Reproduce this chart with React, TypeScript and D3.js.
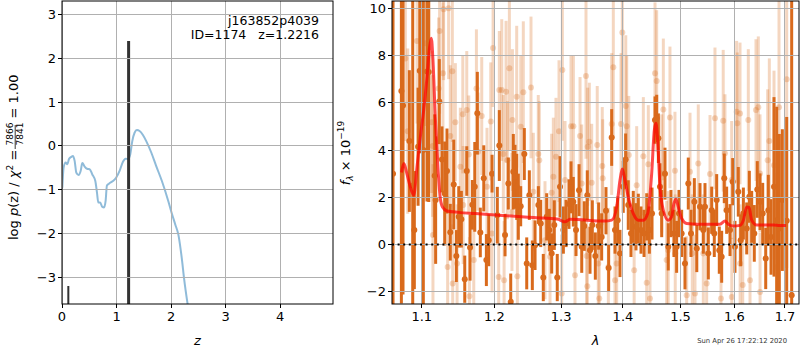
import * as d3 from 'd3'

// left panel: log p(z) curve
const pzCurve: [number, number][] = [
  [0.006, -0.95], [0.03, -0.49], [0.067, -0.38], [0.098, -0.42], [0.128, -0.3], [0.171, -0.25],
  [0.2, -0.23], [0.232, -0.34], [0.263, -0.61], [0.305, -0.66], [0.342, -0.57], [0.373, -0.39],
  [0.415, -0.47], [0.458, -0.52], [0.507, -0.53], [0.556, -0.65], [0.611, -0.8], [0.641, -1.06],
  [0.666, -1.29], [0.7, -1.29], [0.739, -1.39], [0.77, -1.4], [0.8, -1.25], [0.824, -0.9],
  [0.861, -0.86], [0.934, -0.8], [0.995, -0.72], [1.056, -0.57], [1.118, -0.36], [1.166, -0.29],
  [1.209, -0.3], [1.252, -0.19], [1.289, 0.11], [1.331, 0.3], [1.374, 0.36], [1.423, 0.34],
  [1.484, 0.25], [1.545, 0.11], [1.637, -0.15], [1.728, -0.46], [1.832, -0.8], [1.95, -1.26],
  [2.01, -1.52], [2.08, -1.8], [2.134, -2.02], [2.196, -2.55], [2.239, -3.02], [2.306, -3.62],
]
const peakZ = [0.116, 1.2216]
const peakTop = [-3.19, 2.39]
const peakWidth = [2, 3]

// right panel: [lambda, flux, err]
const darkSpec: [number, number, number][] = [
  [1.0628, 3.0, 12], [1.0735, 6.5, 9], [1.0756, 5.88, 8], [1.0838, 4.38, 3.0], [1.0882, 2.5, 9],
  [1.0903, 0.61, 2.5], [1.0952, 4.14, 2.5], [1.0974, 7.36, 3.5], [1.1021, 4.0, 9], [1.107, 7.32, 5.5],
  [1.1093, 7.3, 5.5], [1.1172, 2.91, 2.6], [1.1185, 1.88, 2.7], [1.1234, 6.05, 1.8], [1.127, 3.6, 1.4],
  [1.1307, 2.16, 2.2], [1.1338, 3.11, 1.8], [1.1383, 0.52, 1.2], [1.143, 2.54, 1.9], [1.1466, -0.49, 1.1],
  [1.1499, 1.17, 1.3], [1.1535, 1.07, 1.2], [1.1582, -1.47, 1.0], [1.161, 3.11, 1.05], [1.1656, -0.13, 1.4],
  [1.1688, 1.68, 1.05], [1.1722, 2.44, 1.9], [1.1758, 5.56, 1.75], [1.18, 0.51, 1.05], [1.1849, 2.8, 1.4],
  [1.1886, -0.66, 1.1], [1.192, 0.18, 1.1], [1.1967, 3.0, 0.8], [1.2043, 1.24, 1.2], [1.2072, 4.19, 1.5],
  [1.2155, 0.4, 0.9], [1.2203, 2.58, 1.1], [1.2238, -2.43, 1.2], [1.2276, 3.08, 1.6], [1.2301, 2.87, 1.35],
  [1.2326, 2.44, 1.4], [1.235, 1.6, 1.4], [1.2385, 1.62, 0.85], [1.2439, 3.83, 1.1], [1.2475, -0.8, 1.1],
  [1.2514, 2.09, 1.05], [1.2559, -0.88, 1.05], [1.26, -0.03, 1.05], [1.265, 1.67, 0.8], [1.2686, 0.89, 1.0],
  [1.2725, -1.4, 1.0], [1.2777, 1.17, 1.0], [1.2817, 0.61, 0.9], [1.2854, -0.38, 0.85], [1.2894, 0.82, 1.05],
  [1.294, -1.4, 1.0], [1.2983, 2.44, 1.3], [1.3035, 0.61, 1.0], [1.3077, 0.89, 1.0], [1.3123, 1.71, 1.05],
  [1.3155, 2.42, 1.1], [1.3191, 1.81, 1.05], [1.3234, 0.61, 1.1], [1.3282, 2.3, 1.1], [1.3325, -0.1, 1.1],
  [1.3366, 0.78, 1.05], [1.3414, 2.09, 1.05], [1.3458, -0.24, 1.0], [1.3495, 0.82, 1.05], [1.3544, -0.49, 1.0],
  [1.3598, 0.78, 1.0], [1.3647, 0.32, 1.0], [1.3718, 1.43, 1.0], [1.3762, -1.0, 1.0], [1.3812, 4.53, 1.2],
  [1.3867, 0.61, 1.0], [1.3912, 1.03, 1.0], [1.395, -0.38, 1.0], [1.4005, 2.44, 1.1], [1.4045, 3.6, 1.1],
  [1.4089, 1.67, 1.05], [1.4135, 0.47, 1.0], [1.4174, 1.17, 1.1], [1.422, 0.75, 1.0], [1.426, 1.1, 1.05],
  [1.4306, 0.61, 1.0], [1.4358, 0.47, 1.0], [1.4404, 1.17, 1.0], [1.445, 0.61, 1.0], [1.4496, 1.31, 1.1],
  [1.4548, 5.27, 1.0], [1.4578, 5.34, 1.0], [1.4607, 4.5, 1.05], [1.4635, 2.44, 1.0], [1.4665, 1.31, 1.0],
  [1.4723, 3.0, 1.1], [1.4781, -0.1, 1.0], [1.4829, 1.31, 1.0], [1.4882, 0.47, 1.0], [1.493, -0.1, 1.1],
  [1.4972, 1.31, 1.0], [1.502, 0.47, 1.0], [1.508, -0.8, 1.1], [1.514, 2.58, 1.1], [1.5189, 0.47, 1.0],
  [1.525, 1.81, 1.0], [1.5295, -0.17, 1.0], [1.5354, 1.6, 1.0], [1.5415, 0.61, 1.0], [1.5446, 1.6, 1.0],
  [1.5508, -0.38, 1.1], [1.5571, 1.45, 1.0], [1.5619, 0.47, 1.0], [1.5664, 1.88, 1.1], [1.5713, -0.24, 1.0],
  [1.5758, -0.52, 1.1], [1.5807, 2.8, 1.05], [1.5852, 1.45, 1.0], [1.5916, 0.61, 1.1], [1.5968, 2.66, 1.0],
  [1.6011, -0.1, 1.1], [1.6075, 2.23, 1.05], [1.6121, 0.18, 1.1], [1.6173, 1.31, 1.1], [1.6238, 0.68, 1.1],
  [1.6289, 2.02, 1.1], [1.6335, 1.17, 1.1], [1.6386, 0.47, 1.2], [1.6445, 2.33, 1.2], [1.6499, 1.81, 1.2],
  [1.6552, 1.31, 1.3], [1.6612, -0.59, 1.3], [1.6664, 1.45, 1.5], [1.6718, 0.32, 1.6], [1.6778, 2.44, 3.8],
  [1.6832, 1.03, 4.8], [1.6885, 0.68, 4.0], [1.6946, 1.88, 3.0], [1.7035, 1.0, 4.4], [1.7137, -2.15, 13],
]

const lightSpec: [number, number, number][] = [
  [1.0786, 7.88, 3.5], [1.0817, 4.8, 3.5], [1.0938, 8.62, 3.5], [1.1048, 8.52, 3.5], [1.1132, 5.18, 3],
  [1.1145, 4.17, 3], [1.1149, 0.4, 3], [1.1225, 6.61, 3], [1.1238, 9.04, 3.5], [1.1283, 7.25, 3],
  [1.1292, 9.96, 3], [1.1347, -0.95, 3], [1.136, 10.0, 3], [1.1383, 4.59, 3], [1.1411, 7.34, 3],
  [1.1416, -1.65, 2.5], [1.1452, 5.18, 2.5], [1.1476, -0.8, 2.5], [1.1521, 3.29, 2.5], [1.1555, 5.51, 2.5],
  [1.156, 1.67, 2.5], [1.161, 5.69, 2.5], [1.1638, 3.81, 2.5], [1.1647, -2.19, 2.5], [1.1708, -0.66, 2.5],
  [1.1745, 6.61, 2.5], [1.1768, 3.93, 2.5], [1.182, 5.44, 2.5], [1.1895, 2.44, 2.5], [1.1949, 5.21, 2.5],
  [1.1967, 0.47, 2.5], [1.1982, 8.32, 2.5], [1.2063, -1.38, 2.5], [1.2072, 6.54, 2.5], [1.2107, 6.54, 3],
  [1.213, 3.83, 2.5], [1.2141, -1.51, 2.5], [1.217, 6.47, 3], [1.2189, 3.57, 2.5], [1.2218, 7.46, 3.5],
  [1.2256, 1.38, 2.5], [1.2263, 5.27, 3], [1.2326, 6.26, 3], [1.2336, -1.34, 2.5], [1.2386, 4.99, 3],
  [1.2424, 6.45, 3], [1.2539, 6.65, 3], [1.2574, 2.23, 2.5], [1.2649, 3.83, 2.5], [1.2664, 3.57, 2.5],
  [1.2751, 0.18, 2.5], [1.2828, -0.52, 2.5], [1.2853, 2.19, 2.5], [1.2879, 2.87, 2.5], [1.292, 3.71, 2.5],
  [1.2967, 4.8, 3], [1.3009, -2.08, 2.5], [1.3019, 7.39, 3], [1.3061, 2.73, 2.5], [1.3155, 5.01, 3],
  [1.3192, 5.01, 3], [1.3218, -1.3, 2.5], [1.3298, 4.59, 2.5], [1.3325, 2.58, 2.5], [1.3393, 7.13, 3.5],
  [1.3404, -0.49, 2.5], [1.3414, -1.77, 2.5], [1.342, 4.14, 2.5], [1.3447, 4.35, 2.5], [1.3485, 2.61, 2.5],
  [1.3575, 4.21, 2.5], [1.3592, -0.8, 2.5], [1.3608, -2.29, 2.5], [1.3657, 3.32, 2.5], [1.3664, 2.8, 2.5],
  [1.3757, -0.95, 2.5], [1.3812, 5.1, 3], [1.3839, 7.5, 3], [1.3867, -1.51, 2.5], [1.3895, -0.8, 2.5],
  [1.3967, 5.1, 3], [1.3989, 8.98, 3], [1.4047, 5.86, 3], [1.4063, 5.01, 3], [1.4098, 3.79, 2.5],
  [1.4189, -1.09, 2.5], [1.4232, 2.51, 2.5], [1.4346, 3.74, 2.5], [1.4404, -1.62, 2.5], [1.4432, 3.4, 2.5],
  [1.4461, -2.29, 2.5], [1.4548, 7.25, 3], [1.4577, 6.92, 3], [1.4665, 3.01, 2.5], [1.4694, 5.72, 3],
  [1.4752, -0.66, 2.5], [1.478, -0.24, 2.5], [1.4811, 5.38, 3], [1.49, 3.12, 2.5], [1.4905, -0.38, 2.5],
  [1.5111, -2.15, 2.5], [1.5171, 3.08, 2.5], [1.5213, -0.38, 2.5], [1.5262, -2.08, 2.5], [1.5322, 3.43, 2.5],
  [1.5415, -0.38, 2.5], [1.5477, -1.65, 2.5], [1.5539, 2.98, 2.5], [1.5632, 5.34, 3], [1.5745, -2.29, 2.5],
  [1.5787, 5.24, 3], [1.582, 3.86, 2.5], [1.5948, 2.73, 2.5], [1.595, -2.22, 2.5], [1.6043, 5.62, 3],
  [1.6056, 5.13, 3], [1.6108, 5.55, 3], [1.611, -0.8, 2.5], [1.616, -1.72, 2.5], [1.6269, 5.27, 3],
  [1.6302, -1.51, 2.5], [1.6419, 5.69, 3], [1.6465, 5.81, 3], [1.6499, 3.01, 2.5], [1.65, -2.01, 2.5],
  [1.6651, 3.57, 3], [1.6684, 4.38, 3.5], [1.6778, 3.36, 4], [1.6832, -0.95, 4], [1.6879, 5.81, 6],
  [1.7035, 7.0, 8],
]

const modelSpec: [number, number][] = [
  [1.0737, 3.05], [1.0767, 3.43], [1.0806, 3.0], [1.085, 2.44], [1.0895, 2.09], [1.0938, 3.29],
  [1.0982, 4.56], [1.1026, 5.69], [1.107, 7.1], [1.1105, 8.37], [1.1127, 8.73], [1.1149, 7.81],
  [1.118, 5.41], [1.1215, 3.29], [1.1245, 2.02], [1.1277, 1.59], [1.1338, 1.42], [1.1499, 1.36],
  [1.173, 1.31], [1.2112, 1.23], [1.2574, 1.14], [1.2956, 1.07], [1.3009, 1.0], [1.3061, 0.96],
  [1.3139, 1.07], [1.3701, 0.99], [1.3812, 1.03], [1.3895, 1.59], [1.395, 2.72], [1.3989, 3.2],
  [1.4034, 2.72], [1.4089, 2.02], [1.4175, 1.31], [1.426, 1.03], [1.4346, 1.03], [1.4421, 1.31],
  [1.449, 3.0], [1.4536, 4.84], [1.4565, 5.13], [1.4594, 4.42], [1.4635, 2.44], [1.4694, 1.45],
  [1.478, 1.03], [1.484, 1.17], [1.4882, 1.74], [1.4918, 1.92], [1.4959, 1.59], [1.502, 1.1],
  [1.5111, 0.89], [1.5322, 0.86], [1.5726, 0.86], [1.582, 0.99], [1.5884, 0.86], [1.598, 0.78],
  [1.6108, 0.81], [1.6173, 1.03], [1.6238, 1.59], [1.6283, 1.57], [1.6335, 1.03], [1.6433, 0.82],
  [1.6764, 0.82], [1.6899, 0.8], [1.7021, 0.8],
]

const zTicks = [0, 1, 2, 3, 4]
const pTicks = [-3, -2, -1, 0, 1, 2, 3]
const lamTicks = [1.1, 1.2, 1.3, 1.4, 1.5, 1.6, 1.7]
const fluxTicks = [-2, 0, 2, 4, 6, 8, 10]

const FONT = 'DejaVu Sans, sans-serif'
const GRID = '#b0b0b0'
const ORANGE = '#d96a1c'
const fmt = (v: number) => (v < 0 ? '\u2212' + Math.abs(v) : String(v))

const L = { x0: 62, x1: 333, y0: 1, y1: 304 }
const R = { x0: 392, x1: 799, y0: 1, y1: 304 }

export default function App() {
  const zX = d3.scaleLinear().domain([0, 4.97]).range([L.x0, L.x1])
  const pY = d3.scaleLinear().domain([-3.6, 3.3]).range([L.y1, L.y0])
  const lamX = d3.scaleLog().domain([1.0615, 1.7288]).range([R.x0, R.x1])
  const fY = d3.scaleLinear().domain([-2.52, 10.31]).range([R.y1, R.y0])

  const pzLine = d3.line<[number, number]>().x(d => zX(d[0])).y(d => pY(d[1])).curve(d3.curveMonotoneX)
  const modelLine = d3.line<[number, number]>().x(d => lamX(d[0])).y(d => fY(d[1])).curve(d3.curveMonotoneX)

  // grid drawn as thin filled rects snapped to whole pixels
  const vGrid = (xs: number[], box: typeof L, k: string) => xs.map((x, i) => (
    <rect key={k + 'v' + i} x={Math.round(x - 0.5)} y={box.y0} width={1} height={box.y1 - box.y0} fill={GRID} />
  ))
  const hGrid = (ys: number[], box: typeof L, k: string) => ys.map((y, i) => (
    <rect key={k + 'h' + i} x={box.x0} y={Math.round(y - 0.5)} width={box.x1 - box.x0} height={1} fill={GRID} />
  ))

  return (
    <svg width={800} height={350} style={{ position: 'absolute', left: 0, top: 0, background: '#fff' }}
      fontFamily={FONT}>
      <defs>
        <clipPath id="clipL"><rect x={L.x0} y={L.y0} width={L.x1 - L.x0} height={L.y1 - L.y0} /></clipPath>
        <clipPath id="clipR"><rect x={R.x0} y={R.y0} width={R.x1 - R.x0} height={R.y1 - R.y0} /></clipPath>
      </defs>

      {/* ---------- left panel ---------- */}
      <g clipPath="url(#clipL)">
        <path d={pzLine(pzCurve) || ''} fill="none" stroke="#1f77b4" strokeOpacity={0.5} strokeWidth={2} />
        {peakZ.map((z, i) => (
          <line key={i} x1={zX(z)} x2={zX(z)} y1={L.y1} y2={pY(peakTop[i])}
            stroke="#333" strokeWidth={peakWidth[i]} />
        ))}
      </g>
      {vGrid(zTicks.map(t => zX(t)), L, 'L')}
      {hGrid(pTicks.map(t => pY(t)), L, 'L')}
      <rect x={L.x0} y={L.y0} width={L.x1 - L.x0} height={L.y1 - L.y0} fill="none" stroke="#000" strokeWidth={1} />
      {zTicks.map(t => (
        <g key={'tx' + t}>
          <rect x={Math.round(zX(t) - 0.5)} y={L.y1} width={1} height={4} fill="#000" />
          <text x={zX(t)} y={L.y1 + 17} fontSize={13} textAnchor="middle">{fmt(t)}</text>
        </g>
      ))}
      {pTicks.map(t => (
        <g key={'ty' + t}>
          <rect x={L.x0 - 4} y={Math.round(pY(t) - 0.5)} width={4} height={1} fill="#000" />
          <text x={L.x0 - 6} y={pY(t) + 4.5} fontSize={13} textAnchor="end">{fmt(t)}</text>
        </g>
      ))}
      <text x={319} y={24.5} fontSize={12.5} textAnchor="end">j163852p4039</text>
      <text x={319} y={39} fontSize={12.5} textAnchor="end" style={{ whiteSpace: 'pre' }}>{'ID=1174   z=1.2216'}</text>
      <text x={197.5} y={345} fontSize={13} textAnchor="middle" fontStyle="italic">z</text>
      <g transform="translate(18,153) rotate(-90)">
        <text x={-87} y={0} fontSize={13} style={{ whiteSpace: 'pre' }}>
          {'log '}<tspan fontStyle="italic">p</tspan>{'(z) / '}<tspan fontStyle="italic">{'\u03c7'}</tspan>
          <tspan fontSize={9} dy={-5}>2</tspan><tspan dy={5}>{' = '}</tspan>
          <tspan fontSize={9} dy={-5}>7866</tspan>
          <tspan fontSize={9} dx={-22.9} dy={10}>7841</tspan>
          <tspan dy={-5}>{' = 1.00'}</tspan>
        </text>
        <line x1={4} x2={28} y1={-2.8} y2={-2.8} stroke="#000" strokeWidth={0.8} />
      </g>

      {/* ---------- right panel ---------- */}
      <g clipPath="url(#clipR)">
        {lightSpec.map((d, i) => (
          <line key={'le' + i} x1={lamX(d[0])} x2={lamX(d[0])} y1={fY(d[1] - d[2])} y2={fY(d[1] + d[2])}
            stroke={ORANGE} strokeOpacity={0.28} strokeWidth={3} />
        ))}
        {lightSpec.map((d, i) => (
          <circle key={'lm' + i} cx={lamX(d[0])} cy={fY(d[1])} r={3} fill={ORANGE} fillOpacity={0.28} />
        ))}
        {darkSpec.map((d, i) => (
          <line key={'de' + i} x1={lamX(d[0])} x2={lamX(d[0])} y1={fY(d[1] - d[2])} y2={fY(d[1] + d[2])}
            stroke={ORANGE} strokeWidth={3} />
        ))}
        {darkSpec.map((d, i) => (
          <circle key={'dm' + i} cx={lamX(d[0])} cy={fY(d[1])} r={3} fill={ORANGE} />
        ))}
      </g>
      {vGrid(lamTicks.map(t => lamX(t)), R, 'R')}
      {hGrid(fluxTicks.map(t => fY(t)), R, 'R')}
      <g clipPath="url(#clipR)">
        <path d={modelLine(modelSpec) || ''} fill="none" stroke="red" strokeOpacity={0.7} strokeWidth={3}
          strokeLinejoin="round" />
        <line x1={R.x0} x2={R.x1} y1={fY(0)} y2={fY(0)} stroke="#000" strokeWidth={2} strokeDasharray="2,3.6" />
      </g>
      <rect x={R.x0} y={R.y0} width={R.x1 - R.x0} height={R.y1 - R.y0} fill="none" stroke="#000" strokeWidth={1} />
      {lamTicks.map(t => (
        <g key={'tx' + t}>
          <rect x={Math.round(lamX(t) - 0.5)} y={R.y1} width={1} height={4} fill="#000" />
          <text x={lamX(t)} y={R.y1 + 17} fontSize={13} textAnchor="middle">{t.toFixed(1)}</text>
        </g>
      ))}
      {fluxTicks.map(t => (
        <g key={'ty' + t}>
          <rect x={R.x0 - 4} y={Math.round(fY(t) - 0.5)} width={4} height={1} fill="#000" />
          <text x={R.x0 - 6} y={fY(t) + 4.5} fontSize={13} textAnchor="end">{fmt(t)}</text>
        </g>
      ))}
      <text x={595.5} y={345} fontSize={13} textAnchor="middle" fontStyle="italic">{'\u03bb'}</text>
      <g transform="translate(350,153) rotate(-90)">
        <text x={0} y={0} fontSize={13} textAnchor="middle" style={{ whiteSpace: 'pre' }}>
          <tspan fontStyle="italic">f</tspan><tspan fontSize={9} dy={3} fontStyle="italic">{'\u03bb'}</tspan>
          <tspan dy={-3}>{' \u00d7 10'}</tspan><tspan fontSize={9} dy={-6}>{'\u221219'}</tspan>
        </text>
      </g>
      <text x={787} y={343} fontSize={6.8} textAnchor="end" fill="#333">Sun Apr 26 17:22:12 2020</text>
    </svg>
  )
}
